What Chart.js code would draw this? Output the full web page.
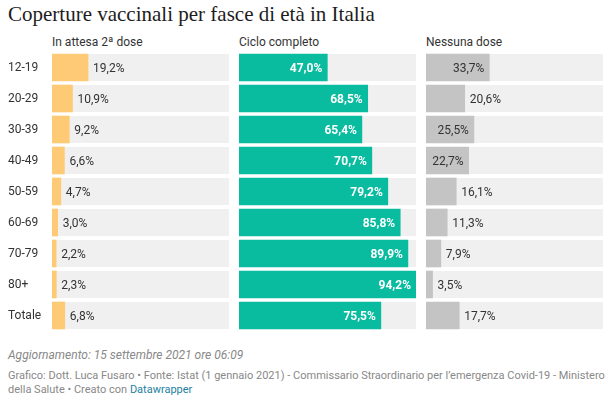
<!DOCTYPE html>
<html>
<head>
<meta charset="utf-8">
<script src="https://cdn.jsdelivr.net/npm/chart.js@4/dist/chart.umd.min.js"></script>
<style>
  body { margin: 0; background: #fff; width: 611px; height: 398px; position: relative; overflow: hidden; font-family: Roboto, sans-serif; color: #333; }
  .abs { position: absolute; white-space: nowrap; }
  #titolo { left: 8px; top: 2px; font-family: "Liberation Serif", serif; font-size: 21px; color: #1d1d1d; }
  .intestazione { top: 35px; font-size: 12px; color: #333; }
  canvas { position: absolute; top: 52px; }
  #aggiornamento { left: 8px; top: 348px; font-size: 12px; font-style: italic; color: #888; }
  #crediti { left: 8px; top: 369px; font-size: 11px; line-height: 14px; color: #888; }
  #crediti span { color: #1d81a2; }
</style>
</head>
<body>
<div id="titolo" class="abs">Coperture vaccinali per fasce di età in Italia</div>
<div class="abs intestazione" style="left:52px">In attesa 2ª dose</div>
<div class="abs intestazione" style="left:239px">Ciclo completo</div>
<div class="abs intestazione" style="left:426px">Nessuna dose</div>

<canvas id="chartAttesa" width="221" height="279" style="left:8px"></canvas>
<canvas id="chartCiclo" width="177" height="279" style="left:239px"></canvas>
<canvas id="chartNessuna" width="177" height="279" style="left:426px"></canvas>

<div id="aggiornamento" class="abs">Aggiornamento: 15 settembre 2021 ore 06:09</div>
<div id="crediti" class="abs">Grafico: Dott. Luca Fusaro • Fonte: Istat (1 gennaio 2021) - Commissario Straordinario per l’emergenza Covid-19 - Ministero<br>della Salute • Creato con <span>Datawrapper</span></div>

<script>
const categorie = ['12-19', '20-29', '30-39', '40-49', '50-59', '60-69', '70-79', '80+', 'Totale'];
const inAttesa = [19.2, 10.9, 9.2, 6.6, 4.7, 3.0, 2.2, 2.3, 6.8];
const cicloCompleto = [47.0, 68.5, 65.4, 70.7, 79.2, 85.8, 89.9, 94.2, 75.5];
const nessunaDose = [33.7, 20.6, 25.5, 22.7, 16.1, 11.3, 7.9, 3.5, 17.7];

// scala comune a tutte e tre le colonne
const MASSIMO = Math.max(...inAttesa, ...cicloCompleto, ...nessunaDose);
const SPESSORE = 27;

function formatta(v) {
  return v.toFixed(1).replace('.', ',') + '%';
}

// sfondo grigio chiaro dietro ogni barra
const sfondoRighe = {
  id: 'sfondoRighe',
  beforeDatasetsDraw(chart) {
    const { ctx, chartArea, scales } = chart;
    ctx.save();
    ctx.fillStyle = '#f0f0f0';
    categorie.forEach((c, i) => {
      const y = scales.y.getPixelForValue(i);
      ctx.fillRect(chartArea.left, y - SPESSORE / 2, chartArea.right - chartArea.left, SPESSORE);
    });
    ctx.restore();
  }
};

// etichette dei valori, dentro la barra se c'è spazio, altrimenti fuori
const etichette = {
  id: 'etichette',
  afterDatasetsDraw(chart, args, opts) {
    const { ctx } = chart;
    const meta = chart.getDatasetMeta(0);
    const dati = chart.data.datasets[0].data;
    ctx.save();
    ctx.textBaseline = 'middle';
    meta.data.forEach((bar, i) => {
      const testo = formatta(dati[i]);
      ctx.font = '12px Roboto';
      const larghezza = ctx.measureText(testo).width;
      const lung = bar.x - bar.base;
      if (lung > larghezza + 9) {
        ctx.font = opts.fontDentro;
        ctx.fillStyle = opts.coloreDentro;
        ctx.textAlign = 'right';
        ctx.fillText(testo, bar.x - 5, bar.y + 1);
      } else {
        ctx.font = '12px Roboto';
        ctx.fillStyle = '#333';
        ctx.textAlign = 'left';
        ctx.fillText(testo, bar.x + 5, bar.y + 1);
      }
    });
    ctx.restore();
  }
};

function creaGrafico(id, valori, colore, conEtichetteRighe, coloreDentro, fontDentro) {
  const assey = {
    display: conEtichetteRighe,
    grid: { display: false },
    border: { display: false },
    ticks: {
      crossAlign: 'far',
      padding: 0,
      color: '#333',
      font: { family: 'Roboto', size: 12 }
    }
  };
  if (conEtichetteRighe) {
    assey.afterFit = s => {
      s.width = 44;
      s.paddingTop = 0;
      s.paddingBottom = 0;
    };
  }

  return new Chart(document.getElementById(id), {
    type: 'bar',
    data: {
      labels: categorie,
      datasets: [{
        data: valori,
        backgroundColor: colore,
        barThickness: SPESSORE,
        borderWidth: 0
      }]
    },
    options: {
      indexAxis: 'y',
      responsive: false,
      animation: false,
      devicePixelRatio: 1,
      layout: { padding: 0 },
      scales: {
        x: { min: 0, max: MASSIMO, display: false },
        y: assey
      },
      plugins: {
        legend: { display: false },
        tooltip: { enabled: false },
        etichette: { coloreDentro, fontDentro }
      }
    },
    plugins: [sfondoRighe, etichette]
  });
}

creaGrafico('chartAttesa', inAttesa, '#ffca76', true, '#333', '12px Roboto');
creaGrafico('chartCiclo', cicloCompleto, '#09bb9f', false, '#fff', 'bold 12px Roboto');
creaGrafico('chartNessuna', nessunaDose, '#c4c4c4', false, '#333', '12px Roboto');
</script>
</body>
</html>
